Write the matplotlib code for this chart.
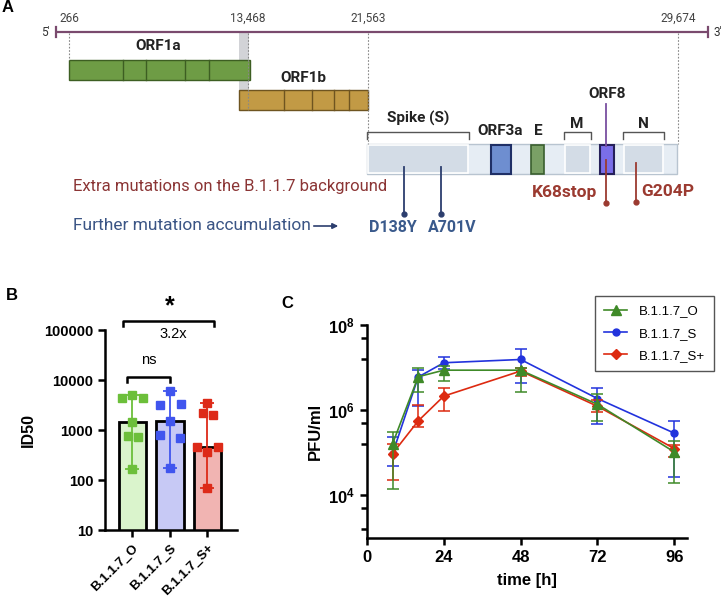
import numpy as np
import matplotlib
matplotlib.use('Agg')
import matplotlib.pyplot as plt
from matplotlib.patches import Rectangle
from matplotlib.lines import Line2D
from matplotlib.ticker import FixedLocator, NullLocator

plt.rcParams['font.family'] = 'Liberation Sans'
plt.rcParams['mathtext.fontset'] = 'custom'
plt.rcParams['mathtext.rm'] = 'Liberation Sans'
plt.rcParams['mathtext.bf'] = 'Liberation Sans:bold'

# Panel A: genome schematic labels
genome_ticks = ['266', '13,468', '21,563', '29,674']
mut_extra = ['K68stop', 'G204P']
mut_further = ['D138Y', 'A701V']

# Panel B: ID50 per donor
groups = ['B.1.1.7_O', 'B.1.1.7_S', 'B.1.1.7_S+']
id50_o = [4300, 5000, 4300, 1470, 770, 735, 166]
id50_s = [6100, 3160, 3260, 1510, 794, 681, 171]
id50_sp = [3400, 2220, 2000, 450, 450, 369, 68]
jitter_o = [-0.27, 0.0, 0.28, 0.0, -0.13, 0.14, 0.0]
jitter_s = [0.0, -0.26, 0.29, 0.0, -0.26, 0.28, 0.0]
jitter_sp = [0.0, -0.13, 0.14, -0.27, 0.29, 0.0, 0.0]

# Panel C: growth kinetics (PFU/ml)
times = [8, 16, 24, 48, 72, 96]
o_mean = [1.64e5, 6.1e6, 8.7e6, 8.7e6, 1.38e6, 1.05e5]
o_hi = [3.1e5, 1.0e7, 1.12e7, 1.0e7, 2.4e6, 1.86e5]
o_lo = [1.44e4, 2.7e6, 4.9e6, 2.7e6, 5.6e5, 1.95e4]
s_mean = [9.6e4, 6.0e6, 1.3e7, 1.55e7, 1.88e6, 2.9e5]
s_hi = [2.3e5, 8.9e6, 1.78e7, 2.7e7, 3.24e6, 5.6e5]
s_lo = [5.0e4, 1.23e6, 9.5e6, 4.3e6, 4.7e5, 2.7e4]
sp_mean = [9.6e4, 5.6e5, 2.14e6, 8.3e6, 1.24e6, 1.26e5]
sp_hi = [1.64e5, 1.31e6, 3.24e6, 1.0e7, 1.78e6, 1.55e5]
sp_lo = [2.24e4, 4.0e5, 9.5e5, 6.3e6, 8.9e5, 7.9e4]

fig = plt.figure(figsize=(7.25, 5.99), dpi=100)

# ---------------- Panel A (pixel coordinates) ----------------
ax = fig.add_axes([0, 0, 1, 1])
ax.set_xlim(0, 725)
ax.set_ylim(599, 0)
ax.axis('off')
FA = 'Roboto'

def box(x0, x1, y0, y1, fc, ec, lw=1.0, z=2):
    ax.add_patch(Rectangle((x0, y0), x1 - x0, y1 - y0, facecolor=fc,
                           edgecolor=ec, linewidth=lw, zorder=z))

# genome line
gcol = '#7a4a6e'
ax.plot([56, 708], [32, 32], color=gcol, lw=1.6, solid_capstyle='butt')
ax.plot([56, 56], [27, 37], color=gcol, lw=1.6)
ax.plot([708, 708], [27, 37], color=gcol, lw=1.6)
ax.text(45, 32, "5'", ha='center', va='center', fontsize=8.5, color='#333', family=FA)
ax.text(718, 32, "3'", ha='center', va='center', fontsize=8.5, color='#333', family=FA)
for lab, x, yb in zip(genome_ticks, [69, 248, 368, 678], [60, 110, 144, 144]):
    ax.text(x, 18, lab, ha='center', va='center', fontsize=8.5, color='#444', family=FA)
    ax.plot([x, x], [33, yb], color='#888', lw=0.8, ls=(0, (1.5, 1.5)), zorder=3)

# gray overlap strip
box(239, 249, 33, 110, '#d2d3d7', 'none', lw=0, z=1)

# ORF1a
box(69, 250, 60, 80, '#6e9c45', '#3d5e22', lw=1.0)
for x in [123, 146, 185, 209]:
    ax.plot([x, x], [60, 80], color='#3d5e22', lw=1.0, zorder=3)
ax.text(158, 46, 'ORF1a', ha='center', va='center', fontsize=11,
        fontweight='bold', color='#222', family=FA)
# ORF1b
box(239, 368, 90, 110, '#c29a45', '#6e5420', lw=1.0)
for x in [284, 312, 334, 349]:
    ax.plot([x, x], [90, 110], color='#6e5420', lw=1.0, zorder=3)
ax.text(303, 78, 'ORF1b', ha='center', va='center', fontsize=11,
        fontweight='bold', color='#222', family=FA)

# structural genes bar
box(367, 677, 144, 174, '#e6edf4', '#b8c4d0', lw=1.0)
for x0, x1 in [(368, 468), (565, 590), (624, 663)]:
    box(x0, x1, 145, 173, '#d3dce6', 'white', lw=1.2, z=2.5)
box(491, 511, 145, 174, '#6e8ed0', '#1f2f66', lw=1.5, z=3)
box(531, 544, 145, 174, '#7aa066', '#3a5f2e', lw=1.2, z=3)
box(600, 614, 145, 174, '#7a6ee8', '#25205a', lw=1.5, z=3)

# brackets
for x0, x1 in [(367, 469), (564, 591), (623, 664)]:
    ax.plot([x0, x0, x1, x1], [139, 132, 132, 139], color='#555', lw=1.0)
for lab, x, y in [('Spike (S)', 418, 118), ('ORF3a', 500, 131), ('E', 538, 131),
                  ('M', 577, 124), ('N', 643, 124), ('ORF8', 607, 94)]:
    ax.text(x, y, lab, ha='center', va='center', fontsize=11,
            fontweight='bold', color='#222', family=FA)

# ORF8 line and mutations
ax.plot([606, 606], [104, 146], color='#7a4fa0', lw=1.3, zorder=4)
red = '#9b3a30'
navy = '#2c3e6e'
ax.plot([606, 606], [160, 203], color=red, lw=1.3, zorder=4)
ax.plot([636, 636], [163, 202], color=red, lw=1.3, zorder=4)
ax.plot([606, 636], [203, 202], ls='none', marker='o', ms=3.5, color=red, zorder=5)
for x in [404, 441]:
    ax.plot([x, x], [167, 214], color=navy, lw=1.3, zorder=4)
    ax.plot(x, 214, marker='o', ms=3.5, color=navy, zorder=5)
ax.text(565, 193, mut_extra[0], ha='center', va='center', fontsize=12.5,
        fontweight='bold', color=red, family=FA)
ax.text(668, 191, mut_extra[1], ha='center', va='center', fontsize=12.5,
        fontweight='bold', color=red, family=FA)
ax.text(393, 228, mut_further[0], ha='center', va='center', fontsize=11.5,
        fontweight='bold', color='#3a5a8c', family=FA)
ax.text(452, 228, mut_further[1], ha='center', va='center', fontsize=11.5,
        fontweight='bold', color='#3a5a8c', family=FA)
ax.text(73, 187, 'Extra mutations on the B.1.1.7 background', ha='left', va='center',
        fontsize=12, color='#8b3535', family=FA)
ax.text(73, 226, 'Further mutation accumulation', ha='left', va='center',
        fontsize=12.5, color='#3b5585', family=FA)
ax.annotate('', xy=(341, 226), xytext=(311, 226),
            arrowprops=dict(arrowstyle='-|>', color=navy, lw=1.2, mutation_scale=8))

# panel letters
ax.text(8, 8, 'A', ha='center', va='center', fontsize=12, fontweight='bold')
ax.text(12, 295, 'B', ha='center', va='center', fontsize=12, fontweight='bold')
ax.text(287, 303, 'C', ha='center', va='center', fontsize=12, fontweight='bold')

# ---------------- Panel B ----------------
axb = fig.add_axes([105 / 725, 1 - 530 / 599, 132 / 725, 200 / 599])
xb = np.arange(len(groups))
pts = [id50_o, id50_s, id50_sp]
jit = [jitter_o, jitter_s, jitter_sp]
bar_fc = ['#daf4cc', '#c7c9f5', '#f1b4b2']
pt_c = ['#6cbf3a', '#4055ee', '#dd2a18']
meds = [np.median(p) for p in pts]
axb.set_yscale('log')
axb.bar(xb, meds, width=0.73, color=bar_fc, edgecolor='black', linewidth=2, zorder=1)
for i in range(len(groups)):
    axb.errorbar(xb[i], meds[i], yerr=[[meds[i] - min(pts[i])], [max(pts[i]) - meds[i]]],
                 fmt='none', ecolor=pt_c[i], elinewidth=1.3, capsize=5, capthick=1.3, zorder=2)
    axb.plot(xb[i] + np.array(jit[i]), pts[i], ls='none', marker='s', ms=5.5,
             color=pt_c[i], zorder=3)
axb.set_ylim(10, 1e5)
axb.set_xlim(-0.73, 2.79)
axb.set_yticks([10, 100, 1000, 10000, 100000])
axb.set_yticklabels(['10', '100', '1000', '10000', '100000'], fontsize=10.5, fontweight='bold')
axb.yaxis.set_minor_locator(NullLocator())
axb.set_xticks(xb)
axb.set_xticklabels(groups, rotation=45, ha='right', rotation_mode='anchor',
                    fontsize=9.5, fontweight='bold')
axb.set_ylabel('ID50', fontsize=11.5, fontweight='bold', labelpad=6)
for s in ['top', 'right']:
    axb.spines[s].set_visible(False)
for s in ['left', 'bottom']:
    axb.spines[s].set_linewidth(1.8)
axb.tick_params(width=1.8, length=5)
# significance brackets
axb.plot([-0.15, -0.15, 1.0, 1.0], [9.1e3, 1.15e4, 1.15e4, 9.1e3], color='black', lw=1.8,
         clip_on=False)
axb.text(0.45, 10 ** 4.4, 'ns', ha='center', va='center', fontsize=10.5)
axb.plot([-0.25, -0.25, 2.18, 2.18], [10 ** 5.08, 10 ** 5.18, 10 ** 5.18, 10 ** 5.08],
         color='black', lw=1.8, clip_on=False)
axb.text(1.0, 10 ** 5.48, '*', ha='center', va='center', fontsize=18, fontweight='bold')
axb.text(1.08, 10 ** 4.92, '3.2x', ha='center', va='center', fontsize=10.5)

# ---------------- Panel C ----------------
axc = fig.add_axes([367 / 725, 1 - 538 / 599, 320 / 725, 213 / 599])
axc.set_yscale('log')
series = [
    ('B.1.1.7_S', s_mean, s_lo, s_hi, '#2233dd', 'o', 5, 2),
    ('B.1.1.7_S+', sp_mean, sp_lo, sp_hi, '#dd2a10', 'D', 5, 3),
    ('B.1.1.7_O', o_mean, o_lo, o_hi, '#3f8a28', '^', 7, 4),
]
handles = {}
for name, m, lo, hi, col, mk, ms, z in series:
    m = np.array(m)
    err = [m - np.array(lo), np.array(hi) - m]
    axc.errorbar(times, m, yerr=err, color=col, marker=mk, ms=ms, lw=1.2,
                 elinewidth=1.1, capsize=4, capthick=1.1, zorder=z)
    handles[name] = Line2D([], [], color=col, marker=mk, ms=ms, lw=1.2)
axc.set_xlim(0, 100)
axc.set_ylim(1e3, 1e8)
axc.set_xticks([0, 24, 48, 72, 96])
axc.set_xticklabels(['0', '24', '48', '72', '96'], fontsize=12, fontweight='bold')
axc.set_yticks([1e4, 1e6, 1e8])
axc.set_yticklabels([r'$\mathbf{10^{4}}$', r'$\mathbf{10^{6}}$', r'$\mathbf{10^{8}}$'],
                    fontsize=12)
axc.yaxis.set_minor_locator(FixedLocator([10 ** 7.7, 10 ** 7.2, 10 ** 5.7, 10 ** 5.2,
                                          10 ** 3.7, 10 ** 3.2]))
axc.xaxis.set_minor_locator(NullLocator())
axc.set_xlabel('time [h]', fontsize=12, fontweight='bold', labelpad=6)
axc.set_ylabel('PFU/ml', fontsize=12, fontweight='bold', labelpad=4)
for s in ['top', 'right']:
    axc.spines[s].set_visible(False)
for s in ['left', 'bottom']:
    axc.spines[s].set_linewidth(1.8)
axc.tick_params(which='major', width=1.8, length=5)
axc.tick_params(which='minor', width=1.8, length=4)
names = ['B.1.1.7_O', 'B.1.1.7_S', 'B.1.1.7_S+']
leg = axc.legend([handles[n] for n in names], names,
                 loc='upper right', bbox_to_anchor=(714 / 725, 1 - 296 / 599),
                 bbox_transform=fig.transFigure, fontsize=9.5, fancybox=False,
                 edgecolor='#555', framealpha=1, handlelength=1.7, borderpad=0.7,
                 labelspacing=0.75, handletextpad=0.9, borderaxespad=0)
leg.get_frame().set_linewidth(1.0)

fig.savefig('out.png', dpi=100)
